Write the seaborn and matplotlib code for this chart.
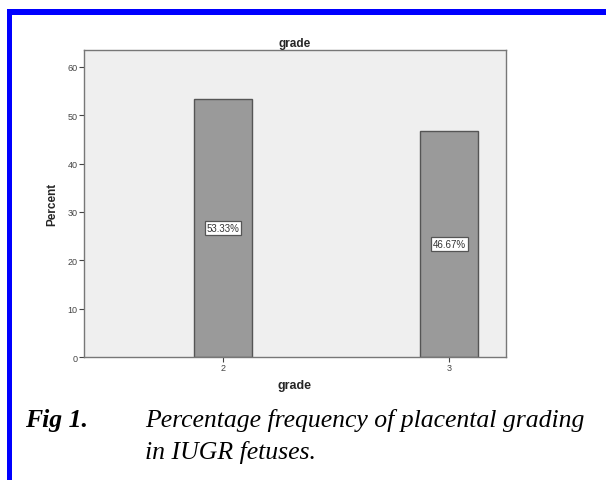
import matplotlib
matplotlib.use("Agg")
import matplotlib.pyplot as plt
import seaborn as sns
import pandas as pd
from matplotlib.patches import Rectangle

# dados
grades = ["2", "3"]
percents = [53.33, 46.67]
bar_labels = ["53.33%", "46.67%"]

df = pd.DataFrame({"grade": grades, "percent": percents})

sns.set_style("white")
plt.rcParams["font.family"] = ["Liberation Sans", "DejaVu Sans"]

W, H = 606, 481
fig = plt.figure(figsize=(W / 100, H / 100), dpi=100)

# eixos em pixels: x 84..506, y 51..358
ax = fig.add_axes([84 / W, 1 - 358 / H, (506 - 84) / W, (358 - 51) / H])
ax.set_facecolor("#efefef")

sns.barplot(data=df, x="grade", y="percent", ax=ax, color="#9a9a9a",
            width=0.26, edgecolor="#555555", linewidth=1.0, saturation=1)

for i, (v, lab) in enumerate(zip(percents, bar_labels)):
    ax.text(i, v / 2, lab, ha="center", va="center", fontsize=7, color="#333333",
            bbox=dict(boxstyle="square,pad=0.2", fc="white", ec="#555555", lw=0.9))

ax.set_xlim(-0.615, 1.252)
ax.set_ylim(0, 63.5)
ax.set_yticks([0, 10, 20, 30, 40, 50, 60])
ax.tick_params(axis="both", labelsize=6.5, colors="#444444", length=3.5, width=0.8,
               direction="out", left=True, bottom=True, pad=1)
for s in ax.spines.values():
    s.set_color("#777777")
    s.set_linewidth(1.0)

ax.set_title("grade", fontsize=8.5, fontweight="bold", pad=3)
ax.set_xlabel("grade", fontsize=9, fontweight="bold", labelpad=5)
ax.set_ylabel("Percent", fontsize=8.5, fontweight="bold", labelpad=7)

# moldura azul
fig.add_artist(Rectangle((7 / W, 1 - 16 / H), 1, 6 / H, transform=fig.transFigure,
                         color="#0000ff", lw=0))
fig.add_artist(Rectangle((7 / W, 0), 5 / W, 1 - 10 / H, transform=fig.transFigure,
                         color="#0000ff", lw=0))

# legenda da figura
fig.text(25 / W, 1 - 421 / H, "Fig 1.", fontsize=18.5, fontweight="bold", style="italic",
         family="Liberation Serif", va="center", color="black")
fig.text(145 / W, 1 - 421 / H, "Percentage frequency of placental grading",
         fontsize=18.5, style="italic", family="Liberation Serif", va="center", color="black")
fig.text(145 / W, 1 - 453 / H, "in IUGR fetuses.",
         fontsize=18.5, style="italic", family="Liberation Serif", va="center", color="black")

fig.savefig("out.png", dpi=100)
